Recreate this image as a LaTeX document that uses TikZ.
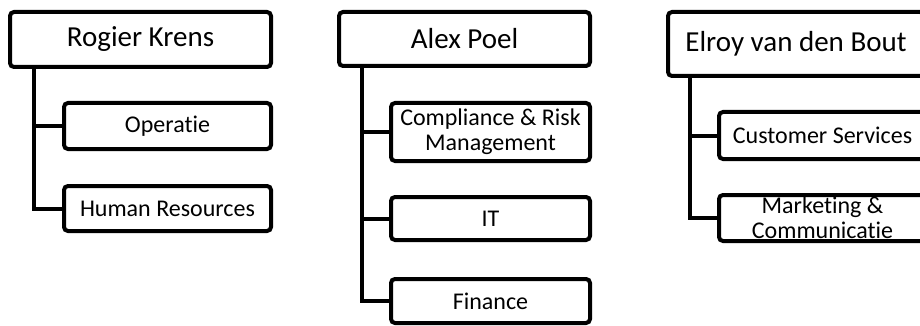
\documentclass[tikz,border=0pt]{standalone}
\usepackage{fontspec}
\setmainfont{Carlito}[Ligatures=NoCommon,RawFeature=-liga]
\begin{document}
\begin{tikzpicture}[x=1pt,y=-1pt,
  orgbox/.style={draw=black,line width=4pt,rounded corners=4pt,fill=white,inner sep=0pt,align=center},
  headbox/.style={orgbox,font=\fontsize{29}{34}\selectfont},
  subbox/.style={orgbox,font=\fontsize{24}{25}\selectfont},
  conn/.style={draw=black,line width=4pt}]
\useasboundingbox (0,0) rectangle (920,326);
% Column 1
\node[headbox,minimum width=261pt,minimum height=55pt] (rk) at (140.5,39.5) {Rogier Krens};
\node[subbox,minimum width=207pt,minimum height=46pt] (op) at (167.5,126) {Operatie};
\node[subbox,minimum width=207pt,minimum height=45pt] (hr) at (167.5,208.5) {Human Resources};
\draw[conn] ([xshift=26pt]rk.south west) |- (op.west);
\draw[conn] ([xshift=26pt]rk.south west) |- (hr.west);
% Column 2
\node[headbox,minimum width=251pt,minimum height=54pt] (ap) at (464.5,39) {Alex Poel};
\node[subbox,minimum width=199pt,minimum height=58pt] (cr) at (490.5,132) {Compliance \& Risk\\Management};
\node[subbox,minimum width=199pt,minimum height=43pt] (it) at (490.5,218.5) {IT};
\node[subbox,minimum width=199pt,minimum height=44pt] (fi) at (490.5,301) {Finance};
\draw[conn] ([xshift=25pt]ap.south west) |- (cr.west);
\draw[conn] ([xshift=25pt]ap.south west) |- (it.west);
\draw[conn] ([xshift=25pt]ap.south west) |- (fi.west);
% Column 3
\node[headbox,minimum width=256pt,minimum height=64pt] (eb) at (796,44) {Elroy van den Bout};
\node[subbox,minimum width=207pt,minimum height=47pt] (cs) at (822.5,135.5) {Customer Services};
\node[subbox,minimum width=207pt,minimum height=46pt] (mc) at (822.5,218) {Marketing \&\\Communicatie};
\draw[conn] ([xshift=24pt]eb.south west) |- (cs.west);
\draw[conn] ([xshift=24pt]eb.south west) |- (mc.west);
\end{tikzpicture}
\end{document}
